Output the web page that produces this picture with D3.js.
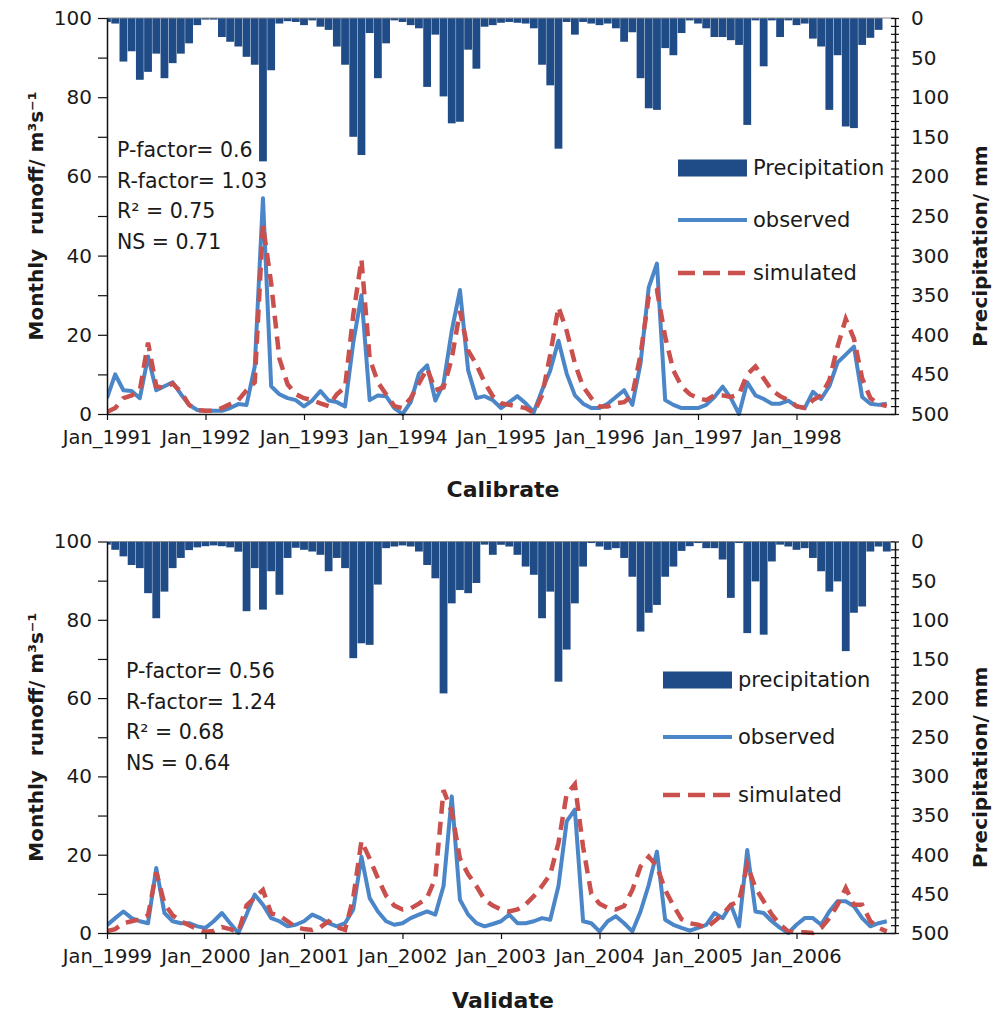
<!DOCTYPE html>
<html>
<head>
<meta charset="utf-8">
<script src="https://cdn.jsdelivr.net/npm/d3@7"></script>
<style>
body { margin: 0; background: #fff; }
text { font-family: "DejaVu Sans", sans-serif; fill: #1a1a1a; }
</style>
</head>
<body>
<script>
// tick labels
var calTicks = ["Jan_1991", "Jan_1992", "Jan_1993", "Jan_1994", "Jan_1995", "Jan_1996", "Jan_1997", "Jan_1998"];
var valTicks = ["Jan_1999", "Jan_2000", "Jan_2001", "Jan_2002", "Jan_2003", "Jan_2004", "Jan_2005", "Jan_2006"];
var runoffTicks = [0, 20, 40, 60, 80, 100];
var precipTicks = [0, 50, 100, 150, 200, 250, 300, 350, 400, 450, 500];

// calibration 1991-1998, monthly
var calPrecip = [5, 7, 55, 42, 78, 68, 45, 76, 57, 45, 32, 9,
	2, 2, 24, 30, 36, 49, 59, 181, 66, 7, 4, 5,
	9, 3, 11, 15, 36, 59, 150, 173, 19, 76, 32, 3,
	5, 9, 13, 87, 21, 99, 133, 131, 40, 64, 11, 9,
	6, 5, 6, 7, 13, 59, 85, 165, 5, 21, 5, 7,
	9, 7, 13, 30, 18, 76, 114, 116, 38, 47, 19, 3,
	7, 13, 24, 24, 28, 34, 135, 3, 61, 3, 24, 3,
	9, 7, 26, 36, 116, 47, 137, 139, 34, 25, 15, 0];
var calObserved = [4, 10, 6, 5.8, 4, 14.5, 6, 7, 8, 5, 2.3, 1,
	0.8, 0.8, 0.8, 1.5, 2.5, 2.3, 12, 54.5, 7, 5, 4, 3.5,
	1.9, 3.4, 5.8, 3.4, 3, 1.9, 18, 30, 3.5, 4.7, 4.5, 1.5,
	0, 3, 10.2, 12.3, 3.4, 7.7, 21, 31.3, 11, 4, 4.5, 3.5,
	1.5, 3, 4.5, 2.7, 0.5, 6, 11, 18.5, 10.2, 4.7, 2.6, 1.5,
	1.5, 2.6, 4.3, 6, 2.3, 12.8, 32, 38, 3.5, 2.3, 1.5, 1.5,
	1.5, 2.3, 4.3, 6.9, 4, 0, 8, 4.7, 3.8, 2.6, 2.6, 3.4,
	1.9, 1.5, 5.6, 3.8, 7, 13, 15, 17, 4.3, 2.6, 2.3, 2.6];
var calSimulated = [0.5, 1.5, 4, 4.7, 6, 18, 7, 6.5, 7.7, 5.6, 2.3, 1,
	0.8, 0.8, 1.5, 2.5, 3.5, 6, 8, 47.7, 33, 14, 7.5, 5,
	4, 3.5, 2.7, 2, 5, 6.7, 25, 39, 14, 8, 5, 2,
	1.5, 4, 7.7, 11.5, 6, 6.7, 14, 26, 16, 12.5, 8, 4.5,
	2.7, 2.3, 1.9, 1.5, 0.3, 4.7, 15, 27, 21, 12.8, 6.9, 4,
	1.9, 1.9, 2.7, 3, 4.7, 15, 29.6, 31.3, 19.5, 11, 7, 5,
	4, 3.5, 4.7, 4.7, 4.3, 5, 10, 12, 9, 6, 4.5, 3.5,
	2, 1.5, 3.5, 4.7, 8.5, 17, 24, 19, 9, 4, 2.5, 2];

// validation 1999-2006, monthly
var valPrecip = [4, 10.6, 19, 30, 34, 66, 98, 64, 34, 21, 11, 7.5,
	6, 5, 6, 7.5, 13, 89, 34, 87, 38, 68, 21, 8,
	10.6, 12.8, 17, 38, 21, 34, 149, 130, 132, 55, 8.5, 6.4,
	5, 6.4, 12.8, 30, 47, 194, 79, 62, 66, 53, 4, 17,
	4.2, 6.4, 17, 32, 42.5, 98, 64, 179, 138, 79, 32, 2,
	6.4, 10.6, 8.5, 21, 45, 115, 91, 81, 45, 32, 12, 6,
	2, 8.5, 8.5, 23, 72, 2, 117, 51, 119, 25.5, 4, 6.4,
	10.6, 8.5, 21, 38, 64, 51, 140, 91, 83, 12.8, 6.4, 12.8];
var valObserved = [2, 3.8, 5.5, 3.8, 3, 2.5, 16.6, 5.1, 3, 2.5, 2.5, 1.7,
	1.3, 3, 5.1, 2.5, 0, 4.7, 9.8, 7.2, 3.8, 3, 1.7, 2.1,
	3, 4.7, 3.8, 2.5, 1.7, 2.5, 6, 19.5, 8.9, 5.5, 3, 2.1,
	2.5, 3.8, 4.7, 5.5, 4.7, 12, 34.9, 8.5, 4.7, 2.5, 1.7, 2.3,
	3, 4.7, 2.5, 2.5, 3, 3.8, 3.4, 12, 28.5, 31.5, 3, 2.5,
	0.4, 3, 4.3, 2.5, 0.4, 5.5, 12.3, 20.8, 3.4, 2.1, 1.3, 0.6,
	1.3, 2.1, 5.1, 3.8, 7.2, 1.7, 21.2, 5.5, 5.1, 3, 1.3, 0,
	2.1, 3.8, 3.8, 2.1, 5.5, 8.1, 8.1, 6.8, 3.8, 1.7, 2.5, 3];
var valSimulated = [0.5, 1, 2.5, 3, 3.5, 4.5, 15.5, 7.5, 4.5, 3, 2, 1,
	0.3, 0.5, 1.5, 1, 0.2, 7, 9, 11, 5, 4.5, 3, 1.5,
	1, 0.8, 1.5, 3, 1.5, 0.8, 9, 23.5, 19, 14, 9.5, 7,
	6, 6.3, 7.5, 9, 14, 36.5, 31, 19, 15, 12, 8.5, 7,
	6, 5.5, 6, 7.3, 9.4, 12, 15, 23, 35.5, 38, 22, 10,
	7.5, 6.4, 6, 6.9, 11, 17, 19.5, 17, 11, 7, 3.5, 2.5,
	2.1, 1.3, 3, 4.7, 7.2, 8.1, 17.4, 11.5, 8.1, 4.7, 2.1, 0.4,
	0.2, 0.2, 0, 1.3, 3.8, 7.2, 11.5, 7.2, 7.2, 3, 1.3, 0.4];

var w = 1000;
var h = 1013;
var left = 107, right = 895;
var barColor = "#1f4b87", obsColor = "#4a86c8", simColor = "#c9504d";

var svg = d3.select("body").append("svg")
	.attr("width", w)
	.attr("height", h);

var panels = [
	{ id: "cal", top: 18, bot: 414, ticks: calTicks, precip: calPrecip, obs: calObserved, sim: calSimulated,
		title: "Calibrate", titleY: 497, statsX: 117, statsY: 157,
		stats: ["P-factor= 0.6", "R-factor= 1.03", "R\u00b2 = 0.75", "NS = 0.71"],
		legX: 678, legY: [168, 220, 273], legPrecip: "Precipitation" },
	{ id: "val", top: 541.5, bot: 933, ticks: valTicks, precip: valPrecip, obs: valObserved, sim: valSimulated,
		title: "Validate", titleY: 1008, statsX: 126, statsY: 678,
		stats: ["P-factor= 0.56", "R-factor= 1.24", "R\u00b2 = 0.68", "NS = 0.64"],
		legX: 663, legY: [680, 737, 795], legPrecip: "precipitation" }
];

panels.forEach(function(p) {
	var g = svg.append("g");
	var x = d3.scaleLinear().domain([0, 96]).range([left, right]);
	var yRun = d3.scaleLinear().domain([0, 100]).range([p.bot, p.top]);
	var yPre = d3.scaleLinear().domain([0, 500]).range([p.top, p.bot]);

	g.append("clipPath").attr("id", "clip-" + p.id)
		.append("rect")
		.attr("x", left).attr("y", p.top - 3)
		.attr("width", right - left).attr("height", p.bot - p.top + 6);

	var plot = g.append("g").attr("clip-path", "url(#clip-" + p.id + ")");

	// precipitation bars hanging from the top
	plot.selectAll("rect.bar")
		.data(p.precip)
		.enter()
		.append("rect")
		.attr("class", "bar")
		.attr("x", function(d, i) { return x(i) - 3.9; })
		.attr("y", p.top)
		.attr("width", 7.8)
		.attr("height", function(d) { return yPre(d) - p.top; })
		.attr("fill", barColor);

	// top edge
	g.append("line")
		.attr("x1", left).attr("x2", right)
		.attr("y1", p.top).attr("y2", p.top)
		.attr("stroke", "#8a8a8a").attr("stroke-width", 1);

	var line = d3.line()
		.x(function(d, i) { return x(i); })
		.y(function(d) { return yRun(d); });

	plot.append("path")
		.datum(p.obs)
		.attr("d", line)
		.attr("fill", "none")
		.attr("stroke", obsColor)
		.attr("stroke-width", 4)
		.attr("stroke-linejoin", "round");

	plot.append("path")
		.datum(p.sim)
		.attr("d", line)
		.attr("fill", "none")
		.attr("stroke", simColor)
		.attr("stroke-width", 4.5)
		.attr("stroke-dasharray", "13,8");

	// left axis
	var ax = g.append("g")
		.attr("transform", "translate(" + left + ",0)")
		.call(d3.axisLeft(yRun)
			.tickValues(d3.range(0, 101, 10))
			.tickFormat(function(d) { return runoffTicks.indexOf(d) >= 0 ? d : ""; })
			.tickSizeInner(9).tickSizeOuter(0).tickPadding(6));
	ax.selectAll("text").style("font-size", "20px").attr("font-family", null);

	// right axis
	var ar = g.append("g")
		.attr("transform", "translate(" + right + ",0)")
		.call(d3.axisRight(yPre)
			.tickValues(d3.range(0, 501, 10))
			.tickFormat(function(d) { return precipTicks.indexOf(d) >= 0 ? d : ""; })
			.tickSizeInner(4).tickSizeOuter(0).tickPadding(12));
	ar.selectAll(".tick line").attr("x1", -4);
	ar.selectAll("text").style("font-size", "20px").attr("font-family", null);

	// bottom axis
	var ab = g.append("g")
		.attr("transform", "translate(0," + p.bot + ")")
		.call(d3.axisBottom(x)
			.tickValues(d3.range(0, 96, 12))
			.tickFormat(function(d) { return p.ticks[d / 12]; })
			.tickSizeInner(6).tickSizeOuter(0).tickPadding(10));
	ab.selectAll("text").style("font-size", "19.5px").attr("font-family", null);

	g.selectAll(".domain").attr("stroke", "#111").attr("stroke-width", 1.5);
	g.selectAll(".tick line").attr("stroke", "#111").attr("stroke-width", 1.2);

	// axis titles
	var mid = (p.top + p.bot) / 2;
	g.append("text")
		.attr("transform", "translate(36," + mid + ") rotate(-90)")
		.attr("text-anchor", "middle")
		.attr("dy", "0.35em")
		.style("font-size", "20px")
		.style("font-weight", "bold")
		.style("white-space", "pre")
		.text("Monthly  runoff/ m\u00b3s\u207b\u00b9");

	g.append("text")
		.attr("transform", "translate(980," + (mid + 30) + ") rotate(-90)")
		.attr("text-anchor", "middle")
		.attr("dy", "0.35em")
		.style("font-size", "20px")
		.style("font-weight", "bold")
		.text("Precipitation/ mm");

	g.append("text")
		.attr("x", 503).attr("y", p.titleY)
		.attr("text-anchor", "middle")
		.style("font-size", "22px")
		.style("font-weight", "bold")
		.text(p.title);

	// statistics
	g.selectAll("text.stat")
		.data(p.stats)
		.enter()
		.append("text")
		.attr("class", "stat")
		.attr("x", p.statsX)
		.attr("y", function(d, i) { return p.statsY + i * 30.5; })
		.style("font-size", "20.5px")
		.text(function(d) { return d; });

	// legend
	var lg = g.append("g");
	lg.append("rect")
		.attr("x", p.legX).attr("y", p.legY[0] - 8.5)
		.attr("width", 69).attr("height", 17)
		.attr("fill", barColor);
	lg.append("line")
		.attr("x1", p.legX).attr("x2", p.legX + 69)
		.attr("y1", p.legY[1]).attr("y2", p.legY[1])
		.attr("stroke", obsColor).attr("stroke-width", 4);
	lg.append("line")
		.attr("x1", p.legX).attr("x2", p.legX + 69)
		.attr("y1", p.legY[2]).attr("y2", p.legY[2])
		.attr("stroke", simColor).attr("stroke-width", 4.5)
		.attr("stroke-dasharray", "17,8");
	var labels = [p.legPrecip, "observed", "simulated"];
	lg.selectAll("text")
		.data(labels)
		.enter()
		.append("text")
		.attr("x", p.legX + 75)
		.attr("y", function(d, i) { return p.legY[i]; })
		.attr("dy", "0.35em")
		.style("font-size", "21px")
		.text(function(d) { return d; });
});
</script>
</body>
</html>
